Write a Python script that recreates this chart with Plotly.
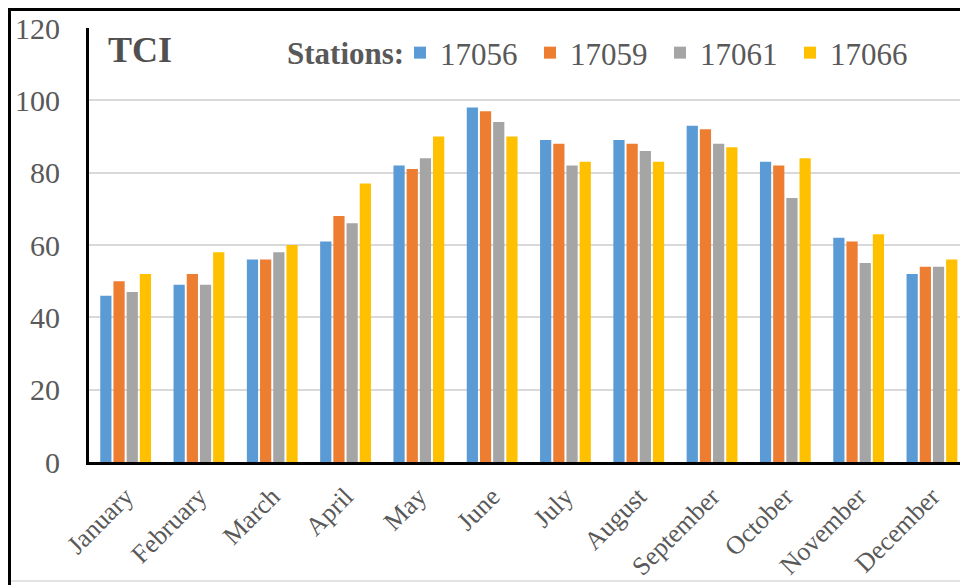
import plotly.graph_objects as go

# Monthly TCI values per station
months = ["January", "February", "March", "April", "May", "June",
          "July", "August", "September", "October", "November", "December"]
stations = ["17056", "17059", "17061", "17066"]
tci_17056 = [46, 49, 56, 61, 82, 98, 89, 89, 93, 83, 62, 52]
tci_17059 = [50, 52, 56, 68, 81, 97, 88, 88, 92, 82, 61, 54]
tci_17061 = [47, 49, 58, 66, 84, 94, 82, 86, 88, 73, 55, 54]
tci_17066 = [52, 58, 60, 77, 90, 90, 83, 83, 87, 84, 63, 56]
series = [tci_17056, tci_17059, tci_17061, tci_17066]
colors = ["#5B9BD5", "#ED7D31", "#A5A5A5", "#FFC000"]
y_ticks = [0, 20, 40, 60, 80, 100, 120]

W, H = 960, 585
ML, MR, MT, MB = 89, 0, 28, 123
PW, PH = W - ML - MR, H - MT - MB
SERIF = "Liberation Serif"
TXT = "#595959"


def px_x(px):
    return (px - ML) / PW


def px_y(py):
    return (H - MB - py) / PH


fig = go.Figure()
for name, vals, col in zip(stations, series, colors):
    fig.add_trace(go.Bar(x=months, y=vals, name=name,
                         marker=dict(color=col, line=dict(width=0))))

# outer frame (left and top heavy rules, faint bottom rule)
frame = [
    dict(x0=px_x(9.5), x1=px_x(9.5), y0=px_y(9.5), y1=px_y(585), color="black", width=3),
    dict(x0=px_x(8), x1=px_x(960), y0=px_y(9.5), y1=px_y(9.5), color="black", width=3),
    dict(x0=px_x(11), x1=px_x(960), y0=px_y(581), y1=px_y(581), color="#E3E3E3", width=2),
]
shapes = [dict(type="line", xref="paper", yref="paper",
               x0=f["x0"], x1=f["x1"], y0=f["y0"], y1=f["y1"],
               line=dict(color=f["color"], width=f["width"]), layer="above")
          for f in frame]

fig.update_layout(
    width=W, height=H,
    margin=dict(l=ML, r=MR, t=MT, b=MB, pad=0),
    paper_bgcolor="white", plot_bgcolor="white",
    barmode="group", bargap=0.28, bargroupgap=0.15,
    font=dict(family=SERIF, color=TXT),
    shapes=shapes,
    showlegend=True,
    legend=dict(
        orientation="h",
        font=dict(family=SERIF, size=31, color=TXT),
        entrywidth=85, entrywidthmode="pixels", itemwidth=30,
        bgcolor="rgba(0,0,0,0)", borderwidth=0,
        x=px_x(400), xanchor="left",
        y=px_y(26), yanchor="top",
        traceorder="normal",
    ),
    annotations=[
        dict(text="<b>TCI</b>", xref="paper", yref="paper",
             x=px_x(106), y=px_y(50), xanchor="left", yanchor="middle",
             showarrow=False, font=dict(family=SERIF, size=36, color="#505050")),
        dict(text="<b>Stations:</b>", xref="paper", yref="paper",
             x=px_x(285), y=px_y(53), xanchor="left", yanchor="middle",
             showarrow=False, font=dict(family=SERIF, size=31, color=TXT)),
    ],
    xaxis=dict(
        range=[-0.5, -0.5 + PW / 73.3],
        showline=True, linecolor="black", linewidth=3,
        showgrid=False, ticks="", tickangle=-45,
        tickfont=dict(family=SERIF, size=26, color=TXT),
        ticklabelstandoff=6,
        automargin=False,
    ),
    yaxis=dict(
        range=[0, 120], tickvals=y_ticks,
        showline=True, linecolor="black", linewidth=3,
        showgrid=True, gridcolor="#D9D9D9", gridwidth=2,
        zeroline=False, ticks="",
        tickfont=dict(family=SERIF, size=30, color=TXT),
        ticklabelstandoff=20,
        automargin=False,
    ),
)

fig.write_html("out.html")
